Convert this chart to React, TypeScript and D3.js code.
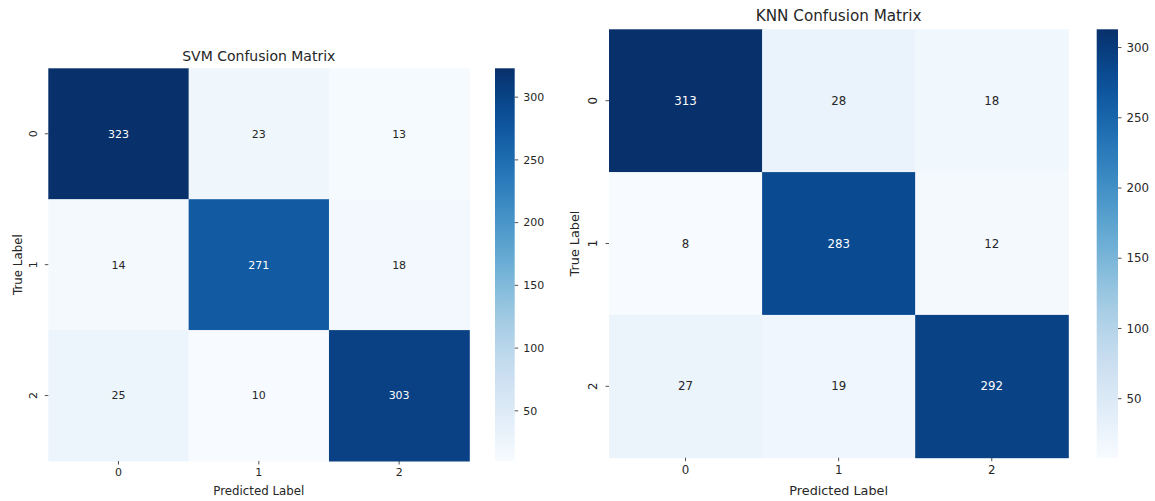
import React from "react";
import * as d3 from "d3";

const classLabels = ["0", "1", "2"];
const svmMatrix = [
  [323, 23, 13],
  [14, 271, 18],
  [25, 10, 303],
];
const knnMatrix = [
  [313, 28, 18],
  [8, 283, 12],
  [27, 19, 292],
];
const colorbarTicks = [50, 100, 150, 200, 250, 300];

type PanelProps = {
  id: string;
  title: string;
  matrix: number[][];
  x0: number;
  x1: number;
  y0: number;
  y1: number;
  cbX: number;
  cbW: number;
  font: number;
  labelFont: number;
  titleFont: number;
  titleY: number;
  ylabelX: number;
  xlabelY: number;
  yTickLabelX: number;
};

const TEXT = "#262626";

function Panel(p: PanelProps) {
  const flat = p.matrix.flat();
  const vmin = d3.min(flat)!;
  const vmax = d3.max(flat)!;
  const color = d3.scaleSequential(d3.interpolateBlues).domain([vmin, vmax]);
  const xs = d3.scaleBand<string>().domain(classLabels).range([p.x0, p.x1]);
  const ys = d3.scaleBand<string>().domain(classLabels).range([p.y0, p.y1]);
  const cb = d3.scaleLinear().domain([vmin, vmax]).range([p.y1, p.y0]);
  const tickLen = 3.5;
  const stops = d3.range(0, 1.0001, 0.05);
  const lum = (v: number) => {
    const c = d3.rgb(color(v));
    const f = (u: number) => {
      const s = u / 255;
      return s <= 0.03928 ? s / 12.92 : Math.pow((s + 0.055) / 1.055, 2.4);
    };
    return 0.2126 * f(c.r) + 0.7152 * f(c.g) + 0.0722 * f(c.b);
  };
  const cx = (p.x0 + p.x1) / 2;
  const cy = (p.y0 + p.y1) / 2;
  return (
    <g fontFamily="DejaVu Sans, sans-serif" fill={TEXT}>
      <defs>
        <linearGradient id={`grad-${p.id}`} x1="0" y1="1" x2="0" y2="0">
          {stops.map((t) => (
            <stop key={t} offset={t} stopColor={d3.interpolateBlues(t)} />
          ))}
        </linearGradient>
      </defs>
      {p.matrix.map((row, i) =>
        row.map((v, j) => (
          <g key={`${i}-${j}`}>
            <rect
              x={xs(classLabels[j])!}
              y={ys(classLabels[i])!}
              width={xs.bandwidth() + 0.5}
              height={ys.bandwidth() + 0.5}
              fill={color(v)}
            />
            <text
              x={xs(classLabels[j])! + xs.bandwidth() / 2}
              y={ys(classLabels[i])! + ys.bandwidth() / 2}
              dy="0.35em"
              textAnchor="middle"
              fontSize={p.font}
              fill={lum(v) > 0.408 ? TEXT : "#ffffff"}
            >
              {v}
            </text>
          </g>
        ))
      )}
      {/* x axis */}
      {classLabels.map((c) => {
        const x = xs(c)! + xs.bandwidth() / 2;
        return (
          <g key={`xt-${c}`}>
            <line x1={x} x2={x} y1={p.y1} y2={p.y1 + tickLen} stroke={TEXT} strokeWidth={0.8} />
            <text x={x} y={p.y1 + tickLen + 3.5} dy="0.76em" textAnchor="middle" fontSize={p.font}>
              {c}
            </text>
          </g>
        );
      })}
      {/* y axis, labels rotated */}
      {classLabels.map((c) => {
        const y = ys(c)! + ys.bandwidth() / 2;
        return (
          <g key={`yt-${c}`}>
            <line x1={p.x0 - tickLen} x2={p.x0} y1={y} y2={y} stroke={TEXT} strokeWidth={0.8} />
            <text
              transform={`translate(${p.yTickLabelX},${y}) rotate(-90)`}
              textAnchor="middle"
              dy="0.35em"
              fontSize={p.font}
            >
              {c}
            </text>
          </g>
        );
      })}
      <text x={cx} y={p.xlabelY} textAnchor="middle" fontSize={p.labelFont}>
        Predicted Label
      </text>
      <text
        transform={`translate(${p.ylabelX},${cy}) rotate(-90)`}
        textAnchor="middle"
        dy="0.35em"
        fontSize={p.labelFont}
      >
        True Label
      </text>
      <text x={cx} y={p.titleY} textAnchor="middle" fontSize={p.titleFont}>
        {p.title}
      </text>
      {/* colorbar */}
      <rect x={p.cbX} y={p.y0} width={p.cbW} height={p.y1 - p.y0} fill={`url(#grad-${p.id})`} />
      {colorbarTicks.map((t) => (
        <g key={`cb-${t}`}>
          <line x1={p.cbX + p.cbW} x2={p.cbX + p.cbW + tickLen} y1={cb(t)} y2={cb(t)} stroke={TEXT} strokeWidth={0.8} />
          <text x={p.cbX + p.cbW + tickLen + 5} y={cb(t)} dy="0.35em" fontSize={p.font}>
            {t}
          </text>
        </g>
      ))}
    </g>
  );
}

export default function App() {
  return (
    <svg width={1155} height={501} style={{ position: "absolute", left: 0, top: 0, background: "#fff" }}>
      <Panel
        id="svm"
        title="SVM Confusion Matrix"
        matrix={svmMatrix}
        x0={48.3}
        x1={469.3}
        y0={68.3}
        y1={461}
        cbX={495}
        cbW={19.7}
        font={11}
        labelFont={11.8}
        titleFont={14}
        titleY={61}
        ylabelX={17.5}
        xlabelY={495}
        yTickLabelX={33}
      />
      <Panel
        id="knn"
        title="KNN Confusion Matrix"
        matrix={knnMatrix}
        x0={609}
        x1={1068.3}
        y0={29.3}
        y1={457.7}
        cbX={1096.7}
        cbW={21.3}
        font={11.8}
        labelFont={12.8}
        titleFont={15.2}
        titleY={21}
        ylabelX={575}
        xlabelY={495}
        yTickLabelX={593}
      />
    </svg>
  );
}
